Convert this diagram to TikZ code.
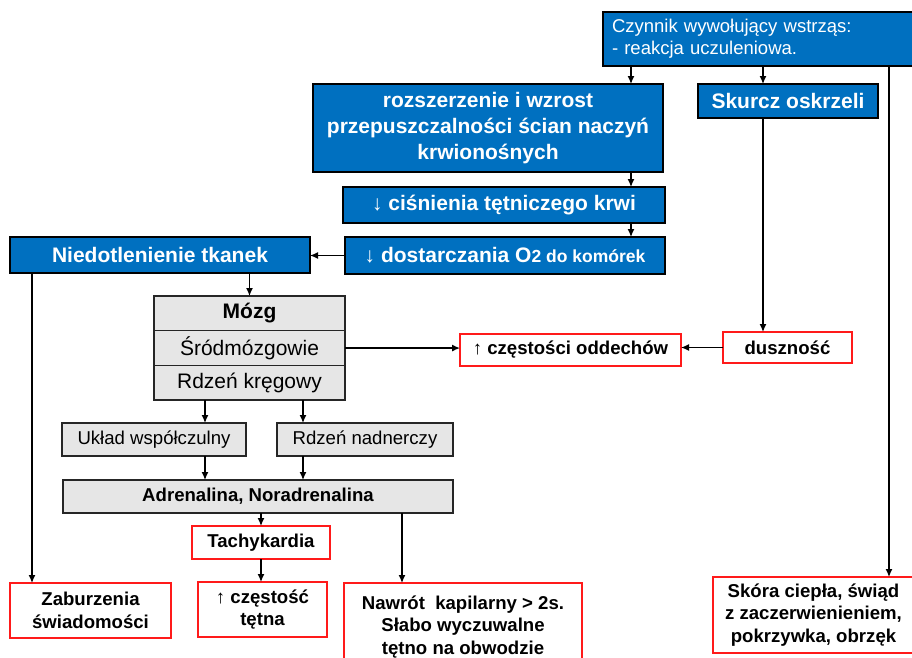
\documentclass[tikz,border=0pt]{standalone}
\usepackage{fontspec}
\setmainfont{Liberation Sans}
\usetikzlibrary{arrows.meta}
\definecolor{shockblue}{HTML}{0070C0}
\definecolor{panelgray}{HTML}{E6E6E6}
\definecolor{alertred}{HTML}{FF1A1A}
\tikzset{
  box/.style={draw, line width=1.4pt, inner sep=0pt, outer sep=0pt,
    anchor=north west, align=center},
  bluebox/.style={box, fill=shockblue, draw=black, text=white,
    font=\bfseries\fontsize{21}{26}\selectfont},
  graybox/.style={box, fill=panelgray, draw=black!85,
    font=\fontsize{21}{25}\selectfont},
  smallgray/.style={graybox, font=\fontsize{18.6}{22}\selectfont},
  redbox/.style={box, fill=white, draw=alertred,
    font=\bfseries\fontsize{18.6}{22.5}\selectfont},
  arr/.style={-{Latex[length=8pt,width=7pt]}, line width=1.3pt},
}
\begin{document}
\begin{tikzpicture}[x=1pt,y=-1pt]
\clip (0,0) rectangle (912,657);
\fill[white] (0,0) rectangle (912,657);

% trigger and first responses
\node[bluebox, text width=318pt, inner xsep=9pt, align=left, minimum height=54pt,
      font=\fontsize{18.5}{22}\selectfont] (czy) at (603,12)
  {Czynnik wywołujący wstrząs:\\- reakcja uczuleniowa.};
\node[bluebox, minimum width=350pt, minimum height=88pt] (roz) at (313,84)
  {rozszerzenie i wzrost\\przepuszczalności ścian naczyń\\krwionośnych};
\node[bluebox, minimum width=180pt, minimum height=34pt] (skurcz) at (698,84)
  {Skurcz oskrzeli};
\node[bluebox, minimum width=322pt, minimum height=36pt] (cis) at (343,187)
  {{\mdseries ↓} ciśnienia tętniczego krwi};
\node[bluebox, minimum width=320pt, minimum height=37pt] (dost) at (345,237)
  {{\mdseries ↓} dostarczania O{\fontsize{17.5}{21}\selectfont 2 do komórek}};
\node[bluebox, minimum width=300pt, minimum height=36pt] (nied) at (10,237)
  {Niedotlenienie tkanek};

% brain block
\node[graybox, minimum width=191pt, minimum height=34.7pt, font=\bfseries\fontsize{21}{25}\selectfont] (mozg) at (154,296) {Mózg};
\node[graybox, minimum width=191pt, minimum height=34.7pt] (srod) at (154,330.7) {Śródmózgowie};
\node[graybox, minimum width=191pt, minimum height=34.7pt] (rdz) at (154,365.4) {Rdzeń kręgowy};

\node[smallgray, minimum width=184pt, minimum height=33pt] (uklad) at (62,423) {Układ współczulny};
\node[smallgray, minimum width=176pt, minimum height=33pt] (nadn) at (277,423) {Rdzeń nadnerczy};
\node[smallgray, minimum width=390pt, minimum height=33pt, font=\bfseries\fontsize{18.6}{22}\selectfont] (adr) at (63,480) {Adrenalina, Noradrenalina};

% symptoms
\node[redbox, minimum width=221pt, minimum height=32pt] (czest) at (460,334)
  {{\mdseries ↑} częstości oddechów};
\node[redbox, minimum width=129pt, minimum height=31pt] (dusz) at (723,332)
  {duszność};
\node[redbox, minimum width=138pt, minimum height=33pt] (tachy) at (192,526)
  {Tachykardia};
\node[redbox, minimum width=161pt, minimum height=55pt] (zab) at (10,583)
  {Zaburzenia\\świadomości};
\node[redbox, minimum width=129pt, minimum height=55pt] (tetno) at (198,582)
  {{\mdseries ↑} częstość\\tętna};
\node[redbox, minimum width=238pt, minimum height=88pt] (nawrot) at (344,583)
  {Nawrót\ \ kapilarny > 2s.\\Słabo wyczuwalne\\tętno na obwodzie};
\node[redbox, minimum width=201pt, minimum height=76pt] (skora) at (713,577)
  {Skóra ciepła, świąd\\z zaczerwienieniem,\\pokrzywka, obrzęk};

% connector columns
\coordinate (xA) at (631,0);
\coordinate (xB) at (763,0);
\coordinate (xC) at (889,0);
\coordinate (xD) at (32,0);
\coordinate (xE) at (205,0);
\coordinate (xF) at (303,0);
\coordinate (xG) at (402,0);

% connectors
\draw[arr] (xA |- czy.south) -- (xA |- roz.north);
\draw[arr] (xB |- czy.south) -- (xB |- skurcz.north);
\draw[arr] (xC |- czy.south) -- (xC |- skora.north);
\draw[arr] (xA |- roz.south) -- (xA |- cis.north);
\draw[arr] (xA |- cis.south) -- (xA |- dost.north);
\draw[arr] (dost.west) -- (dost.west -| nied.east);
\draw[arr] (xD |- nied.south) -- (xD |- zab.north);
\draw[arr] (mozg.north |- nied.south) -- (mozg.north);
\draw[arr] (srod.east) -- (srod.east -| czest.west);
\draw[arr] (xB |- skurcz.south) -- (xB |- dusz.north);
\draw[arr] (dusz.west) -- (dusz.west -| czest.east);
\draw[arr] (xE |- rdz.south) -- (xE |- uklad.north);
\draw[arr] (xF |- rdz.south) -- (xF |- nadn.north);
\draw[arr] (xE |- uklad.south) -- (xE |- adr.north);
\draw[arr] (xF |- nadn.south) -- (xF |- adr.north);
\draw[arr] (tachy.north |- adr.south) -- (tachy.north);
\draw[arr] (tachy.south) -- (tachy.south |- tetno.north);
\draw[arr] (xG |- adr.south) -- (xG |- nawrot.north);
\end{tikzpicture}
\end{document}
